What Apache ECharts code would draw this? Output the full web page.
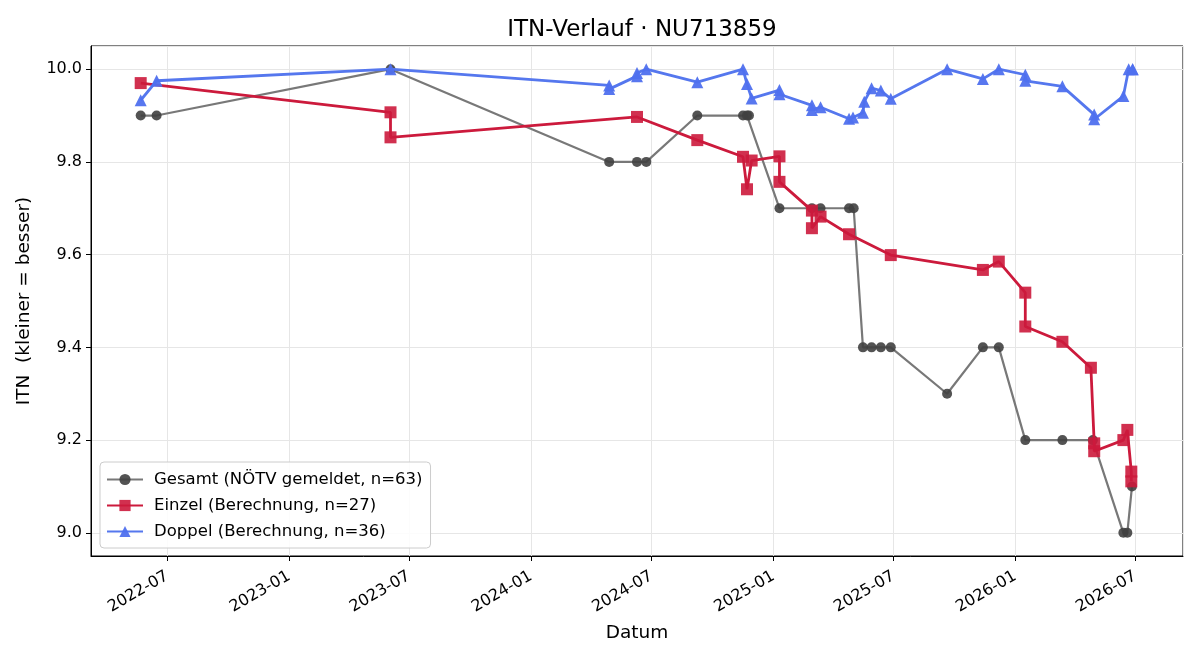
<!DOCTYPE html>
<html>
<head>
<meta charset="utf-8">
<script src="https://cdn.jsdelivr.net/npm/echarts@6/dist/echarts.min.js"></script>
<style>
html,body{margin:0;padding:0;background:#fff;}
#chart{width:1200px;height:660px;}
</style>
</head>
<body>
<div id="chart"></div>
<script>
// ---- Data ----
const gesamtDates = ['2022-05-22','2022-06-15','2023-06-03','2024-04-28','2024-06-09','2024-06-23','2024-09-08','2024-11-16','2024-11-22','2024-11-25','2025-01-10','2025-02-28','2025-03-13','2025-04-25','2025-05-02','2025-05-16','2025-05-29','2025-06-12','2025-06-27','2025-09-20','2025-11-13','2025-12-07','2026-01-16','2026-03-13','2026-04-28','2026-06-13','2026-06-19','2026-06-26'];
const gesamtValues = [9.9,9.9,10.0,9.8,9.8,9.8,9.9,9.9,9.9,9.9,9.7,9.7,9.7,9.7,9.7,9.4,9.4,9.4,9.4,9.3,9.4,9.4,9.2,9.2,9.2,9.0,9.0,9.1];

const einzelDates = ['2022-05-22','2023-06-03','2023-06-03','2024-06-09','2024-09-08','2024-11-16','2024-11-22','2024-11-29','2025-01-10','2025-01-10','2025-02-28','2025-02-28','2025-03-13','2025-04-25','2025-06-27','2025-11-13','2025-12-07','2026-01-16','2026-01-16','2026-03-13','2026-04-25','2026-04-30','2026-04-30','2026-06-13','2026-06-19','2026-06-25','2026-06-25'];
const einzelValues = [9.970,9.907,9.853,9.897,9.847,9.811,9.741,9.803,9.812,9.757,9.695,9.657,9.682,9.644,9.599,9.567,9.585,9.518,9.445,9.412,9.356,9.193,9.176,9.200,9.222,9.132,9.111];

const doppelDates = ['2022-05-22','2022-06-15','2023-06-03','2024-04-28','2024-04-28','2024-06-09','2024-06-09','2024-06-23','2024-09-08','2024-11-16','2024-11-22','2024-11-29','2025-01-10','2025-01-10','2025-02-28','2025-02-28','2025-03-13','2025-04-25','2025-05-01','2025-05-16','2025-05-18','2025-05-29','2025-06-12','2025-06-27','2025-09-20','2025-11-13','2025-12-07','2026-01-16','2026-01-16','2026-03-13','2026-04-30','2026-04-30','2026-06-13','2026-06-21','2026-06-27','2026-06-27'];
const doppelValues = [9.933,9.975,10.0,9.965,9.957,9.985,9.992,10.0,9.972,10.0,9.968,9.937,9.955,9.946,9.922,9.912,9.918,9.893,9.896,9.906,9.930,9.959,9.954,9.936,10.0,9.979,10.0,9.988,9.975,9.963,9.902,9.892,9.942,10.0,10.0,10.0];

const seriesNames = ['Gesamt (NÖTV gemeldet, n=63)','Einzel (Berechnung, n=27)','Doppel (Berechnung, n=36)'];
const titleText = 'ITN-Verlauf · NU713859';
const xName = 'Datum';
const yName = 'ITN  (kleiner = besser)';
const xMin = '2022-03-08';
const xMax = '2026-09-11';
const yMin = 8.95;
const yMax = 10.05;

function pairs(d, v){ return d.map((x,i)=>[x, v[i]]); }

const FONT = 'DejaVu Sans';
const chart = echarts.init(document.getElementById('chart'), null, {renderer:'canvas'});
chart.setOption({
  animation:false,
  backgroundColor:'#ffffff',
  textStyle:{fontFamily:FONT},
  title:{
    text:titleText,
    left:637, top:14, textAlign:'center',
    textStyle:{fontFamily:FONT,fontSize:23,fontWeight:'normal',color:'#000'}
  },
  grid:{left:91,right:17,top:46,bottom:104,show:true,borderColor:'#000',borderWidth:1,backgroundColor:'transparent',containLabel:false},
  legend:{
    orient:'vertical', left:100, top:462,
    itemWidth:36, itemHeight:14, itemGap:9,
    backgroundColor:'rgba(255,255,255,0.85)', borderColor:'#cccccc', borderWidth:1, borderRadius:4,
    padding:[9,8,8,6],
    textStyle:{fontFamily:FONT,fontSize:16.5,color:'#000',padding:[0,0,0,6]},
    data:seriesNames
  },
  xAxis:{
    type:'time', min:xMin, max:xMax,
    minInterval:3600*24*1000*180, maxInterval:3600*24*1000*185,
    name:xName, nameLocation:'middle', nameGap:68,
    nameTextStyle:{fontFamily:FONT,fontSize:18.5,color:'#000'},
    axisLine:{show:true,lineStyle:{color:'#000',width:1}},
    axisTick:{show:true,inside:false,length:5,lineStyle:{color:'#000'}},
    axisLabel:{
      rotate:30, fontFamily:FONT, fontSize:16, color:'#000', margin:19,
      showMinLabel:false, showMaxLabel:false,
      formatter:function(v){ return echarts.time.format(v,'{yyyy}-{MM}',false); }
    },
    splitLine:{show:true,lineStyle:{color:'#e6e6e6',width:1}},
    minorTick:{show:false}
  },
  yAxis:{
    type:'value', min:yMin, max:yMax, splitNumber:5,
    name:yName, nameLocation:'middle', nameGap:57, nameRotate:90,
    nameTextStyle:{fontFamily:FONT,fontSize:18.5,color:'#000'},
    axisLine:{show:true,lineStyle:{color:'#000',width:1}},
    axisTick:{show:true,inside:false,length:5,lineStyle:{color:'#000'}},
    axisLabel:{fontFamily:FONT,fontSize:16,color:'#000',margin:9,showMinLabel:false,showMaxLabel:false,
      formatter:function(v){return v.toFixed(1);}},
    splitLine:{show:true,lineStyle:{color:'#e6e6e6',width:1}}
  },
  series:[
    {
      name:seriesNames[0], type:'line', data:pairs(gesamtDates,gesamtValues),
      symbol:'circle', symbolSize:10, z:2,
      lineStyle:{color:'#787878',width:2.2},
      itemStyle:{color:'#404040',opacity:0.9}
    },
    {
      name:seriesNames[1], type:'line', data:pairs(einzelDates,einzelValues),
      symbol:'rect', symbolSize:12, z:3,
      lineStyle:{color:'#cc1a3c',width:2.8},
      itemStyle:{color:'#cc1a3c',opacity:0.9}
    },
    {
      name:seriesNames[2], type:'line', data:pairs(doppelDates,doppelValues),
      symbol:'triangle', symbolSize:12, z:4,
      lineStyle:{color:'#5577ee',width:2.8},
      itemStyle:{color:'#4f70ee',opacity:0.95}
    }
  ]
});
</script>
</body>
</html>
